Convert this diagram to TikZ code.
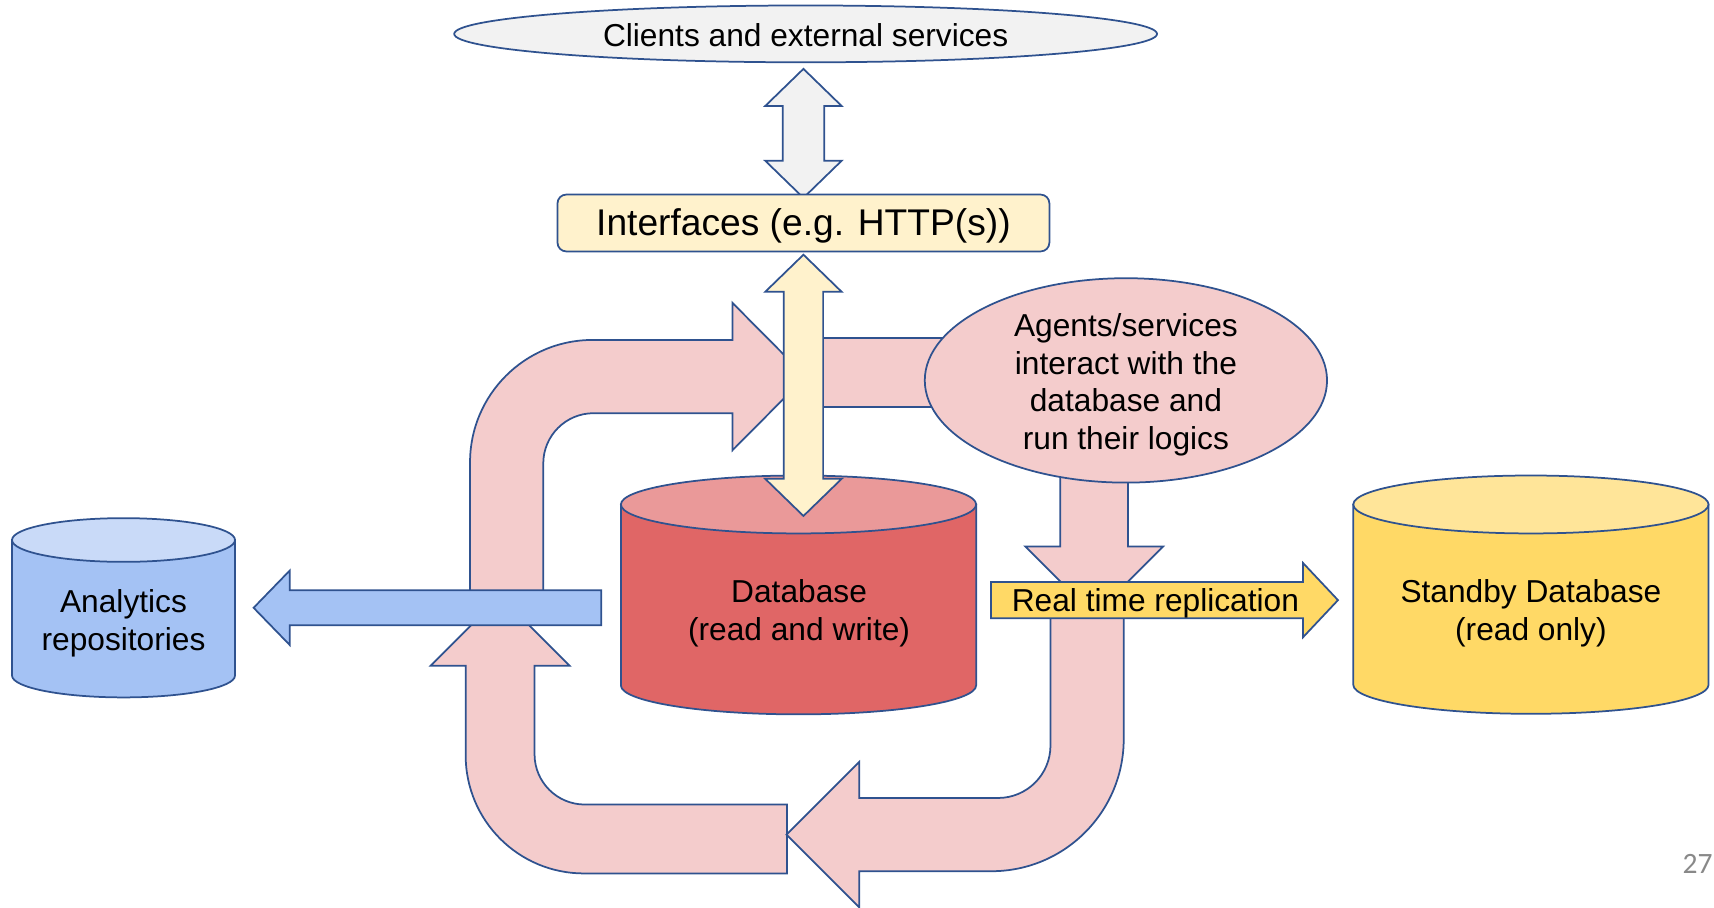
\documentclass[tikz,border=0pt]{standalone}
\usepackage{fontspec}
\setmainfont{Liberation Sans}
\newfontfamily\pagefont{Carlito}
\usetikzlibrary{shapes.geometric}
\definecolor{outl}{HTML}{2F528F}
\definecolor{grayc}{HTML}{F2F2F2}
\definecolor{creamc}{HTML}{FFF2CC}
\definecolor{pinkc}{HTML}{F4CCCC}
\definecolor{dbbody}{HTML}{E06666}
\definecolor{dbtop}{HTML}{EA9999}
\definecolor{sbbody}{HTML}{FFD966}
\definecolor{sbtop}{HTML}{FFE599}
\definecolor{anbody}{HTML}{A4C2F4}
\definecolor{antop}{HTML}{C9DAF8}
\definecolor{pagenum}{HTML}{898989}
\newcommand\mycyl[7]{%
  \path[shp, fill=#6] (#1-#2,#3) -- (#1-#2,#4)
     arc[start angle=180, end angle=0, x radius=#2, y radius=#5]
     -- (#1+#2,#3) -- cycle;
  \path[shp, fill=#7] (#1,#3) ellipse [x radius=#2, y radius=#5];
}
\begin{document}
\begin{tikzpicture}[x=0.5pt,y=-0.5pt, line join=miter,
  shp/.style={draw=outl, line width=0.8pt},
  pinkshape/.style={shp, fill=pinkc},
  lbl/.style={font=\fontsize{14.5}{17.3}\selectfont, align=center, inner sep=0pt, text=black}]
\useasboundingbox (0,0) rectangle (1568,830);

% pink loop pieces
\path[pinkshape] (740,309) rectangle (880,372);
\path[pinkshape] (430,545) -- (430,423) arc[start angle=180, end angle=270, radius=112]
   -- (670,311) -- (670,277) -- (737,344.5) -- (670,412) -- (670,378) -- (543,378)
   arc[start angle=270, end angle=180, radius=46] -- (497,545) -- cycle;
\path[pinkshape] (457.5,545.5) -- (521,609) -- (489,609) -- (489,690)
   arc[start angle=180, end angle=90, radius=46] -- (720,736) -- (720,799) -- (534,799)
   arc[start angle=90, end angle=180, radius=108] -- (426,609) -- (394,609) -- cycle;
\path[pinkshape] (961,545) -- (961,682) arc[start angle=0, end angle=90, radius=48]
   -- (786,730) -- (786,697) -- (719.5,763.5) -- (786,830) -- (786,797) -- (907,797)
   arc[start angle=90, end angle=0, radius=121] -- (1028,545) -- cycle;
\path[pinkshape] (970,420) -- (970,500) -- (938,500) -- (1001,563) -- (1064,500)
   -- (1032,500) -- (1032,420) -- cycle;

% agents ellipse
\node[shp, fill=pinkc, ellipse, minimum width=184pt, minimum height=93.5pt, inner sep=0pt] (agents) at (1030,348) {};
\node[lbl] (agentstext) at (1030,352) {Agents/services\\interact with the\\database and\\run their logics};

% database
\mycyl{730.5}{162.5}{461.5}{627}{26.5}{dbbody}{dbtop}
\node[lbl] (db) at (731,561) {Database\\(read and write)};

% yellow double arrow
\path[shp, fill=creamc] (735,233) -- (770,267) -- (753,267) -- (753,438) -- (770,438)
   -- (735,472) -- (700,438) -- (717,438) -- (717,267) -- (700,267) -- cycle;

% blue arrow to analytics
\path[shp, fill=anbody] (550,540) -- (265,540) -- (265,522) -- (232,556) -- (265,590)
   -- (265,572) -- (550,572) -- cycle;

% replication arrow
\path[shp, fill=sbbody] (906.5,532.5) -- (1192,532.5) -- (1192,515) -- (1224,549)
   -- (1192,583) -- (1192,565.5) -- (906.5,565.5) -- cycle;
\node[lbl] (repl) at (1057,552) {Real time replication};

% analytics and standby
\mycyl{113}{102}{494}{618}{20}{anbody}{antop}
\node[lbl] (an) at (113,570) {Analytics\\repositories};
\mycyl{1400.5}{162.5}{461.5}{626.5}{26.5}{sbbody}{sbtop}
\node[lbl] (sb) at (1400.5,561) {Standby Database\\(read only)};

% top part
\node[shp, fill=grayc, ellipse, minimum width=321.5pt, minimum height=26pt, inner sep=0pt] (clients) at (737,31) {};
\node[lbl] (clientstext) at (737,32) {Clients and external services};
\path[shp, fill=grayc] (735,63) -- (770,97) -- (754,97) -- (754,147) -- (770,147)
   -- (735,181) -- (700,147) -- (716,147) -- (716,97) -- (700,97) -- cycle;
\node[shp, fill=creamc, rounded corners=4pt, minimum width=225pt, minimum height=26pt, inner sep=0pt] (iface) at (735,204) {};
\node[lbl, font=\fontsize{17}{20}\selectfont] (ifacetext) at (735,207) {Interfaces (e.g. HTTP(s))};

\node[inner sep=0pt, text=pagenum, font=\pagefont\fontsize{13.5}{16}\selectfont] (pnum) at (1553,790) {27};
\end{tikzpicture}
\end{document}
